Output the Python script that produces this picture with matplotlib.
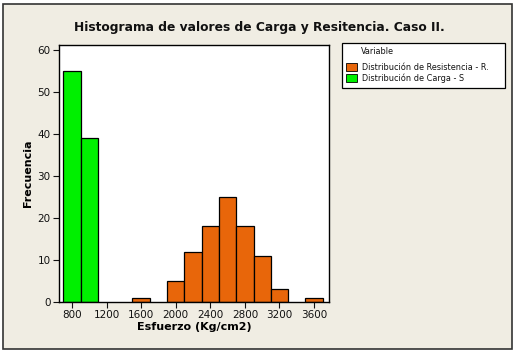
import matplotlib
matplotlib.use("Agg")
import matplotlib.pyplot as plt
from matplotlib.patches import Rectangle

# Data
carga_centers = [800, 1000]
carga_counts = [55, 39]
resist_centers = [1600, 2000, 2200, 2400, 2600, 2800, 3000, 3200, 3600]
resist_counts = [1, 5, 12, 18, 25, 18, 11, 3, 1]
bin_width = 200
xticks = [800, 1200, 1600, 2000, 2400, 2800, 3200, 3600]
yticks = [0, 10, 20, 30, 40, 50, 60]
title = "Histograma de valores de Carga y Resitencia. Caso II."
legend_title = "Variable"
labels = ["Distribución de Resistencia - R.", "Distribución de Carga - S"]

orange = "#E8660A"
green = "#00F000"
bg = "#F0EDE3"

W, H = 517, 354
plt.rcParams['font.family'] = ['DejaVu Sans']
fig = plt.figure(figsize=(W / 100, H / 100), dpi=100)
fig.patch.set_facecolor("white")

# outer frame
fig.patches.append(Rectangle((3 / W, 1 - 349 / H), 509 / W, 345 / H,
                             transform=fig.transFigure, facecolor=bg,
                             edgecolor="#333333", linewidth=1.2, zorder=-10))

ax = fig.add_axes([59 / W, 1 - 302 / H, 270 / W, 257 / H])
ax.set_zorder(5)
ax.set_facecolor("white")
ax.bar(carga_centers, carga_counts, width=bin_width, color=green,
       edgecolor="black", linewidth=0.9, zorder=2)
ax.bar(resist_centers, resist_counts, width=bin_width, color=orange,
       edgecolor="black", linewidth=0.9, zorder=2)
ax.set_xlim(650, 3773)
ax.set_ylim(0, 61.2)
ax.set_xticks(xticks)
ax.set_yticks(yticks)
ax.tick_params(direction="out", length=4, width=0.8, labelsize=7.5, pad=2,
               colors="#111111")
for s in ax.spines.values():
    s.set_linewidth(1.0)
    s.set_color("black")
ax.set_xlabel("Esfuerzo (Kg/cm2)", fontsize=8, fontweight="bold", labelpad=1)
ax.set_ylabel("Frecuencia", fontsize=8, fontweight="bold", labelpad=3)

fig.text(259 / W, 1 - 27 / H, title, ha="center", va="center",
         fontsize=8.8, fontweight="bold", color="#111111")

# legend box
fig.patches.append(Rectangle((342 / W, 1 - 88 / H), 163 / W, 45 / H,
                             transform=fig.transFigure, facecolor="white",
                             edgecolor="black", linewidth=0.9, zorder=1))
fig.text(361 / W, 1 - 51 / H, legend_title, ha="left", va="center",
         fontsize=5.9, color="#111111", zorder=3)
for i, (lab, col) in enumerate(zip(labels, [orange, green])):
    yc = 67 + i * 11
    fig.patches.append(Rectangle((346 / W, 1 - (yc + 4) / H), 11 / W, 8 / H,
                                 transform=fig.transFigure, facecolor=col,
                                 edgecolor="black", linewidth=0.6, zorder=2))
    fig.text(362 / W, 1 - yc / H, lab, ha="left", va="center",
             fontsize=5.9, color="#111111", zorder=3)

fig.savefig("out.png", dpi=100, facecolor=fig.get_facecolor())
